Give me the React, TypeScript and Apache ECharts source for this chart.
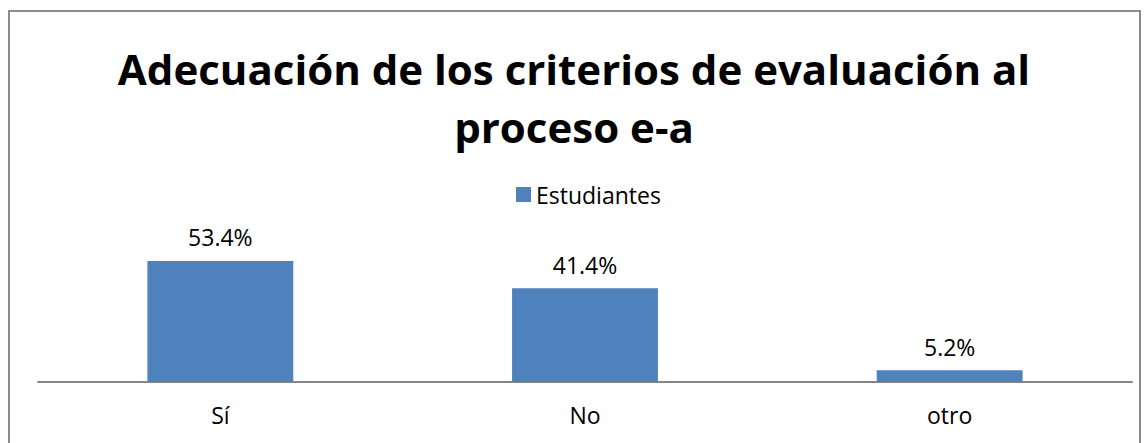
import React, { useEffect, useRef } from "react";
import * as echarts from "echarts";

const categories = ["Sí", "No", "otro"];
const seriesName = "Estudiantes";
const values = [53.4, 41.4, 5.2];
const titleText = "Adecuación de los criterios de evaluación al\nproceso e-a";

export default function App() {
  const ref = useRef<HTMLDivElement>(null);
  useEffect(() => {
    if (!ref.current) return;
    const chart = echarts.init(ref.current, null, { renderer: "svg" });
    chart.setOption({
      animation: false,
      backgroundColor: "#ffffff",
      title: {
        text: titleText,
        left: "center",
        top: 34,
        textStyle: {
          fontFamily: "Open Sans",
          fontWeight: "bold",
          fontSize: 42,
          lineHeight: 58,
          color: "#000000",
        },
      },
      legend: {
        data: [seriesName],
        top: 178,
        left: 511,
        icon: "rect",
        itemWidth: 15,
        itemHeight: 15,
        itemGap: 8,
        textStyle: { fontFamily: "Open Sans", fontSize: 23, color: "#000000" },
      },
      graphic: [
        {
          type: "rect",
          shape: { x: 9, y: 11, width: 1131, height: 440 },
          style: { fill: "none", stroke: "#8c8c8c", lineWidth: 2 },
          silent: true,
        },
      ],
      grid: { left: 38, right: 16, top: 246, bottom: 61 },
      xAxis: {
        type: "category",
        data: categories,
        axisLine: { lineStyle: { color: "#868686", width: 2 } },
        axisTick: { show: false },
        axisLabel: {
          fontFamily: "Open Sans",
          fontSize: 23,
          color: "#000000",
          margin: 21,
        },
      },
      yAxis: {
        type: "value",
        min: 0,
        max: 60,
        show: false,
        splitLine: { show: false },
      },
      series: [
        {
          name: seriesName,
          type: "bar",
          data: values,
          barWidth: "40%",
          itemStyle: { color: "#4f81bd" },
          label: {
            show: true,
            position: "top",
            distance: 12,
            formatter: (p: any) => p.value.toFixed(1) + "%",
            fontFamily: "Open Sans",
            fontSize: 23,
            color: "#000000",
          },
        },
      ],
    });
    return () => chart.dispose();
  }, []);
  return (
    <div
      ref={ref}
      style={{ position: "fixed", left: 0, top: 0, width: 1148, height: 443 }}
    />
  );
}
